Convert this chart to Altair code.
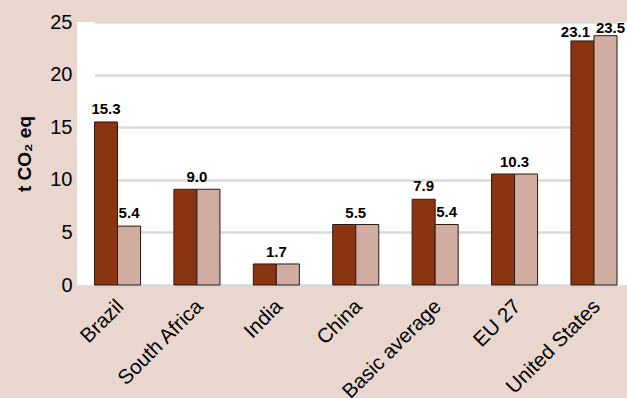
import altair as alt
import pandas as pd

countries = ["Brazil", "South Africa", "India", "China", "Basic average", "EU 27", "United States"]
series = ["Including LULUCF", "Excluding LULUCF"]
# bar heights as drawn (t CO2 eq per capita)
incl_bar = [15.5, 9.1, 2.0, 5.75, 8.15, 10.55, 23.2]
excl_bar = [5.6, 9.1, 2.0, 5.75, 5.75, 10.55, 23.7]
# printed value labels
incl_label = ["15.3", "9.0", "1.7", "5.5", "7.9", "10.3", "23.1"]
excl_label = ["5.4", "9.0", "1.7", "5.5", "5.4", "10.3", "23.5"]

rows = []
for c, a, b in zip(countries, incl_bar, excl_bar):
    rows.append({"country": c, "series": series[0], "value": a})
    rows.append({"country": c, "series": series[1], "value": b})
bars_df = pd.DataFrame(rows)

pair_rows, single_rows = [], []
for c, a, b, la, lb in zip(countries, incl_bar, excl_bar, incl_label, excl_label):
    if la == lb:
        pair_rows.append({"country": c, "value": max(a, b), "label": la})
    else:
        single_rows.append({"country": c, "series": series[0], "value": a, "label": la})
        single_rows.append({"country": c, "series": series[1], "value": b, "label": lb})
pair_df = pd.DataFrame(pair_rows)
single_df = pd.DataFrame(single_rows)

FONT = "Liberation Sans"
xscale = alt.Scale(domain=countries, range=[17.5, 540], paddingInner=0.42, paddingOuter=0)
xoff = alt.XOffset("series:N", sort=series, scale=alt.Scale(domain=series, paddingInner=0, paddingOuter=0))
yscale = alt.Scale(domain=[0, 25])

x_enc = alt.X("country:N", sort=countries, scale=xscale,
              axis=alt.Axis(title=None, labelAngle=-45, labelFontSize=20.5, labelFont=FONT,
                            labelColor="#000000", ticks=False, domain=False,
                            labelAlign="right", labelBaseline="middle", labelPadding=18,
                            labelOffset=3, grid=False))
y_enc = alt.Y("value:Q", scale=yscale,
              axis=alt.Axis(title="t CO₂ eq", values=[0, 5, 10, 15, 20, 25], labelFontSize=20,
                            labelFont=FONT, labelColor="#000000", ticks=False, domain=False,
                            labelPadding=5, gridColor="#d9d9d9", gridWidth=2.5,
                            titleFont=FONT, titleFontSize=19, titleFontWeight="bold",
                            titleColor="#000000", titleAngle=-90, titleX=-53, titleY=131.5,
                            titleAlign="center", titleBaseline="middle"))

bars = alt.Chart(bars_df).mark_bar(stroke="#2a1a14", strokeWidth=1).encode(
    x=x_enc,
    xOffset=xoff,
    y=y_enc,
    color=alt.Color("series:N", sort=series,
                    scale=alt.Scale(domain=series, range=["#8a3411", "#d0ada0"]), legend=None),
)

text_props = dict(font=FONT, fontSize=15, fontWeight="bold", color="#000000", baseline="bottom")

pair_text = alt.Chart(pair_df).mark_text(dy=-4, **text_props).encode(
    x=alt.X("country:N", sort=countries, scale=xscale),
    y=alt.Y("value:Q", scale=yscale),
    text="label:N",
)

single_base = alt.Chart(single_df)
single_text = single_base.transform_filter(alt.datum.country != "United States").mark_text(
    dy=-5, **text_props).encode(
    x=alt.X("country:N", sort=countries, scale=xscale),
    xOffset=xoff,
    y=alt.Y("value:Q", scale=yscale),
    text="label:N",
)
us_a = single_base.transform_filter(
    (alt.datum.country == "United States") & (alt.datum.series == series[0])
).mark_text(dy=-1, dx=-7, **text_props).encode(
    x=alt.X("country:N", sort=countries, scale=xscale),
    xOffset=xoff,
    y=alt.Y("value:Q", scale=yscale),
    text="label:N",
)
us_b = single_base.transform_filter(
    (alt.datum.country == "United States") & (alt.datum.series == series[1])
).mark_text(dy=0, dx=5, **text_props).encode(
    x=alt.X("country:N", sort=countries, scale=xscale),
    xOffset=xoff,
    y=alt.Y("value:Q", scale=yscale),
    text="label:N",
)

chart = alt.layer(bars, pair_text, single_text, us_a, us_b).properties(
    width=550, height=263,
    autosize=alt.AutoSizeParams(type="none"),
    padding={"left": 77, "top": 22, "right": 0, "bottom": 113},
    background="#e8d6cf",
).configure_view(fill="#ffffff", stroke=None)

chart.save("out.html", embed_options={"renderer": "svg", "actions": False})
